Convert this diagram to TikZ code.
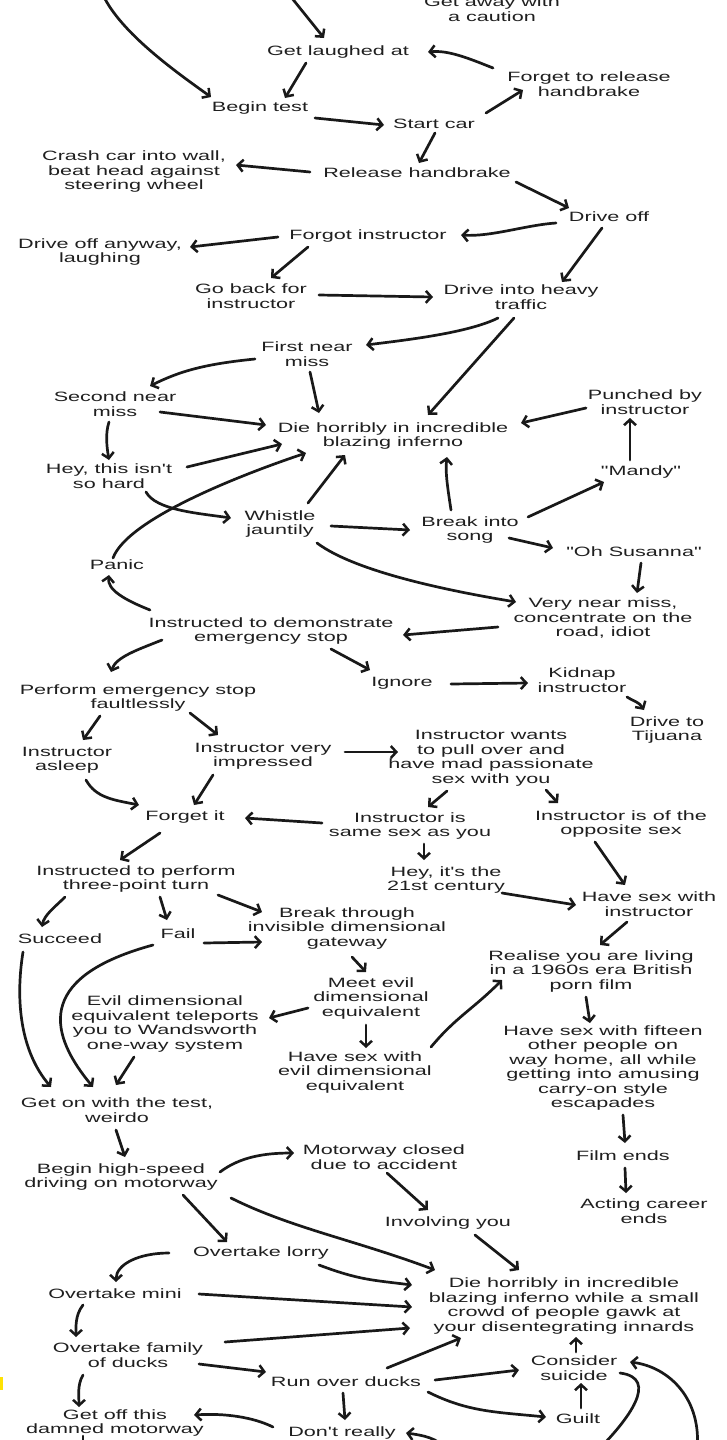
\documentclass[tikz,border=0pt]{standalone}
\usepackage{fontspec}
\setmainfont{Liberation Sans}[FakeStretch=1.6,Ligatures=TeXOff]
\usetikzlibrary{arrows.meta}
\newcommand\pp[3]{([shift={(#2,#3)}]#1.center)}
\begin{document}
\begin{tikzpicture}[x=1pt,y=-1pt,
  lbl/.style={align=center,inner sep=0pt,font=\fontsize{13.5}{14.5}\selectfont,text=black!88},
  plain/.style={draw=black!90,line width=2.7pt,line cap=round,line join=round},
  arr/.style={plain,-{Straight Barb[length=5.5pt,width=12pt,line width=2.5pt]}}]
\useasboundingbox (0,0) rectangle (726,1440);
\clip (0,0) rectangle (726,1440);
% nodes
\node[lbl] (GA) at (492,9) {Get away with\\a caution};
\node[lbl] (GL) at (338,52) {Get laughed at};
\node[lbl] (FR) at (589,84) {Forget to release\\handbrake};
\node[lbl] (BT) at (260,108) {Begin test};
\node[lbl] (SC) at (434,124) {Start car};
\node[lbl] (CR) at (134,172) {Crash car into wall,\\beat head against\\steering wheel};
\node[lbl] (RH) at (417,173) {Release handbrake};
\node[lbl] (DO) at (609,217) {Drive off};
\node[lbl] (FI) at (368,236) {Forgot instructor};
\node[lbl] (DA) at (100,252) {Drive off anyway,\\laughing};
\node[lbl] (GB) at (251,296) {Go back for\\instructor};
\node[lbl] (TR) at (521,297) {Drive into heavy\\traffic};
\node[lbl] (FN) at (307,354) {First near\\miss};
\node[lbl] (SN) at (115,404) {Second near\\miss};
\node[lbl] (D1) at (393,436) {Die horribly in incredible\\blazing inferno};
\node[lbl] (PB) at (645,402) {Punched by\\instructor};
\node[lbl] (HH) at (109,476) {Hey, this isn't\\so hard};
\node[lbl] (MA) at (641,472) {"Mandy"};
\node[lbl] (WJ) at (280,524) {Whistle\\jauntily};
\node[lbl] (BS) at (470,530) {Break into\\song};
\node[lbl] (OS) at (634,552) {"Oh Susanna"};
\node[lbl] (PA) at (117,565) {Panic};
\node[lbl] (VN) at (603,618) {Very near miss,\\concentrate on the\\road, idiot};
\node[lbl] (IE) at (271,631) {Instructed to demonstrate\\emergency stop};
\node[lbl] (IG) at (402,683) {Ignore};
\node[lbl] (KI) at (582,680) {Kidnap\\instructor};
\node[lbl] (PE) at (138,698) {Perform emergency stop\\faultlessly};
\node[lbl] (TJ) at (667,730) {Drive to\\Tijuana};
\node[lbl] (AS) at (67,760) {Instructor\\asleep};
\node[lbl] (IV) at (263,756) {Instructor very\\impressed};
\node[lbl] (PO) at (491,758) {Instructor wants\\to pull over and\\have mad passionate\\sex with you};
\node[lbl] (FG) at (185,817) {Forget it};
\node[lbl] (SS) at (410,826) {Instructor is\\same sex as you};
\node[lbl] (OP) at (621,824) {Instructor is of the\\opposite sex};
\node[lbl] (TP) at (136,879) {Instructed to perform\\three-point turn};
\node[lbl] (CE) at (446,880) {Hey, it's the\\21st century};
\node[lbl] (HI) at (649,904) {Have sex with\\instructor};
\node[lbl] (SU) at (60,939) {Succeed};
\node[lbl] (FA) at (178,934) {Fail};
\node[lbl] (GW) at (347,928) {Break through\\invisible dimensional\\gateway};
\node[lbl] (RE) at (591,971) {Realise you are living\\in a 1960s era British\\porn film};
\node[lbl] (ME) at (371,998) {Meet evil\\dimensional\\equivalent};
\node[lbl] (ET) at (165,1024) {Evil dimensional\\equivalent teleports\\you to Wandsworth\\one-way system};
\node[lbl] (HE) at (355,1072) {Have sex with\\evil dimensional\\equivalent};
\node[lbl] (FF) at (603,1068) {Have sex with fifteen\\other people on\\way home, all while\\getting into amusing\\carry-on style\\escapades};
\node[lbl] (GO) at (117,1110) {Get on with the test,\\weirdo};
\node[lbl] (BH) at (121,1177) {Begin high-speed\\driving on motorway};
\node[lbl] (MC) at (384,1157) {Motorway closed\\due to accident};
\node[lbl] (FE) at (623,1156) {Film ends};
\node[lbl] (AC) at (644,1211) {Acting career\\ends};
\node[lbl] (IY) at (448,1223) {Involving you};
\node[lbl] (OL) at (261,1253) {Overtake lorry};
\node[lbl] (D2) at (564,1306) {Die horribly in incredible\\blazing inferno while a small\\crowd of people gawk at\\your disentegrating innards};
\node[lbl] (OM) at (115,1294) {Overtake mini};
\node[lbl] (OD) at (128,1355) {Overtake family\\of ducks};
\node[lbl] (RO) at (346,1382) {Run over ducks};
\node[lbl] (CS) at (574,1368) {Consider\\suicide};
\node[lbl] (GU) at (578,1419) {Guilt};
\node[lbl] (GF) at (115,1423) {Get off this\\damned motorway};
\node[lbl] (DR) at (342,1433) {Don't really};
% free ends
\coordinate (t1) at (103,-5);
\coordinate (t2) at (291,-3);
\coordinate (b1) at (598,1450);
\coordinate (b2) at (697,1450);
\coordinate (b3) at (445,1450);
\coordinate (b4) at (83,1450);
% connectors
\draw[arr] (t1) .. controls +(18,38) and +(-35,-25) .. \pp{BT}{-49}{-11};
\draw[arr] (t2) -- \pp{GL}{-14}{-14};
\draw[arr] \pp{GL}{-32}{11} -- \pp{BT}{25}{-10};
\draw[arr] \pp{FR}{-96}{-16} .. controls +(-25,-10) and +(20,-2) .. \pp{GL}{90}{0};
\draw[arr] \pp{SC}{52}{-11} -- \pp{FR}{-66}{6};
\draw[arr] \pp{BT}{55}{10} -- \pp{SC}{-50}{1};
\draw[arr] \pp{SC}{1}{9} -- \pp{RH}{2}{-10};
\draw[arr] \pp{RH}{-107}{-1} -- \pp{CR}{102}{-7};
\draw[arr] \pp{RH}{99}{9} -- \pp{DO}{-40}{-9};
\draw[arr] \pp{DO}{-53}{6} .. controls +(-30,2) and +(30,2) .. \pp{FI}{93}{-1};
\draw[arr] \pp{FI}{-90}{1} -- \pp{DA}{90}{-5};
\draw[arr] \pp{FI}{-60}{11} -- \pp{GB}{20}{-18};
\draw[arr] \pp{DO}{-7}{11} -- \pp{TR}{41}{-15};
\draw[arr] \pp{GB}{68}{-1} -- \pp{TR}{-88}{0};
\draw[arr] \pp{TR}{-23}{21} .. controls +(-30,15) and +(40,-5) .. \pp{FN}{59}{-9};
\draw[arr] \pp{TR}{-7}{21} -- \pp{D1}{35}{-21};
\draw[arr] \pp{FN}{-52}{5} .. controls +(-50,5) and +(30,-15) .. \pp{SN}{35}{-18};
\draw[arr] \pp{FN}{3}{18} -- \pp{D1}{-74}{-23};
\draw[arr] \pp{SN}{45}{8} -- \pp{D1}{-127}{-11};
\draw[arr] \pp{SN}{-6}{18} .. controls +(-4,12) and +(-2,-12) .. \pp{HH}{0}{-16};
\draw[arr] \pp{HH}{78}{-9} -- \pp{D1}{-111}{8};
\draw[arr] \pp{PA}{-4}{-7} .. controls +(15,-40) and +(-60,20) .. \pp{D1}{-87}{17};
\draw[arr] \pp{WJ}{28}{-21} -- \pp{D1}{-48}{19};
\draw[arr] \pp{BS}{-19}{-20} .. controls +(-3,-20) and +(-2,15) .. \pp{D1}{54}{21};
\draw[arr] \pp{HH}{37}{16} .. controls +(10,18) and +(-35,-5) .. \pp{WJ}{-49}{-6};
\draw[arr] \pp{WJ}{51}{2} -- \pp{BS}{-60}{0};
\draw[arr] \pp{BS}{58}{-13} -- \pp{MA}{-37}{10};
\draw[arr] \pp{MA}{-11}{-12} -- \pp{PB}{-15}{16};
\draw[arr] \pp{PB}{-59}{6} -- \pp{D1}{128}{-13};
\draw[arr] \pp{BS}{39}{8} -- \pp{OS}{-81}{-4};
\draw[arr] \pp{WJ}{37}{19} .. controls +(40,30) and +(-60,-10) .. \pp{VN}{-87}{-16};
\draw[arr] \pp{OS}{7}{11} -- \pp{VN}{34}{-25};
\draw[arr] \pp{IE}{-121}{-21} .. controls +(-25,-10) and +(-2,15) .. \pp{PA}{-8}{10};
\draw[arr] \pp{VN}{-105}{9} -- \pp{IE}{132}{4};
\draw[arr] \pp{IE}{-109}{9} .. controls +(-25,10) and +(5,-15) .. \pp{PE}{-27}{-26};
\draw[arr] \pp{IE}{60}{18} -- \pp{IG}{-32}{-13};
\draw[arr] \pp{IG}{49}{1} -- \pp{KI}{-54}{3};
\draw[arr] \pp{KI}{45}{17} .. controls +(8,5) and +(-5,-8) .. \pp{TJ}{-23}{-20};
\draw[arr] \pp{PE}{-38}{18} -- \pp{AS}{16}{-20};
\draw[arr] \pp{PE}{52}{15} -- \pp{IV}{-45}{-21};
\draw[arr] \pp{IV}{82}{-4} -- \pp{PO}{-93}{-6};
\draw[arr] \pp{AS}{19}{20} .. controls +(10,18) and +(-25,-5) .. \pp{FG}{-46}{-12};
\draw[arr] \pp{IV}{-50}{19} -- \pp{FG}{9}{-12};
\draw[arr] \pp{PO}{-44}{33} -- \pp{SS}{18}{-19};
\draw[arr] \pp{PO}{55}{32} -- \pp{OP}{-63}{-21};
\draw[arr] \pp{SS}{-88}{-3} -- \pp{FG}{60}{1};
\draw[arr] \pp{SS}{14}{18} -- \pp{CE}{-22}{-20};
\draw[arr] \pp{FG}{-25}{16} -- \pp{TP}{-16}{-19};
\draw[arr] \pp{OP}{-26}{18} -- \pp{HI}{-24}{-19};
\draw[arr] \pp{CE}{56}{13} -- \pp{HI}{-73}{1};
\draw[arr] \pp{TP}{-71}{18} .. controls +(-10,10) and +(2,-12) .. \pp{SU}{-18}{-12};
\draw[arr] \pp{TP}{24}{18} -- \pp{FA}{-11}{-14};
\draw[arr] \pp{TP}{82}{16} -- \pp{GW}{-85}{-16};
\draw[arr] \pp{FA}{26}{9} -- \pp{GW}{-85}{14};
\draw[arr] \pp{HI}{-22}{18} -- \pp{RE}{9}{-26};
\draw[arr] \pp{GW}{5}{29} -- \pp{ME}{-5}{-26};
\draw[arr] \pp{SU}{-37}{13} .. controls +(-8,50) and +(-30,-35) .. \pp{GO}{-66}{-23};
\draw[arr] \pp{FA}{-25}{11} .. controls +(-110,30) and +(-50,-60) .. \pp{GO}{-24}{-23};
\draw[arr] \pp{ME}{-63}{10} -- \pp{ET}{104}{-6};
\draw[arr] \pp{ME}{-5}{27} -- \pp{HE}{11}{-24};
\draw[arr] \pp{HE}{76}{-25} .. controls +(25,-30) and +(-30,30) .. \pp{RE}{-89}{9};
\draw[arr] \pp{RE}{-5}{26} -- \pp{FF}{-13}{-45};
\draw[arr] \pp{ET}{-31}{33} -- \pp{GO}{-1}{-25};
\draw[arr] \pp{GO}{-1}{20} -- \pp{BH}{4}{-20};
\draw[arr] \pp{FF}{20}{47} -- \pp{FE}{2}{-13};
\draw[arr] \pp{FE}{2}{12} -- \pp{AC}{-18}{-18};
\draw[arr] \pp{BH}{99}{-5} .. controls +(20,-15) and +(-30,0) .. \pp{MC}{-90}{-4};
\draw[arr] \pp{MC}{3}{16} -- \pp{IY}{-20}{-13};
\draw[arr] \pp{BH}{62}{18} -- \pp{OL}{-34}{-11};
\draw[arr] \pp{BH}{110}{21} .. controls +(60,30) and +(-80,-30) .. \pp{D2}{-129}{-36};
\draw[arr] \pp{IY}{27}{12} -- \pp{D2}{-45}{-36};
\draw[arr] \pp{OL}{58}{12} .. controls +(40,15) and +(-40,-5) .. \pp{D2}{-152}{-21};
\draw[arr] \pp{OL}{-92}{0} .. controls +(-30,0) and +(0,-18) .. \pp{OM}{1}{-12};
\draw[arr] \pp{OM}{84}{0} -- \pp{D2}{-152}{1};
\draw[arr] \pp{OD}{97}{-13} -- \pp{D2}{-154}{22};
\draw[arr] \pp{OM}{-32}{11} .. controls +(-8,10) and +(0,-10) .. \pp{OD}{-52}{-18};
\draw[arr] \pp{OD}{71}{9} -- \pp{RO}{-80}{-10};
\draw[arr] \pp{RO}{41}{-14} -- \pp{D2}{-103}{32};
\draw[arr] \pp{RO}{89}{-2} -- \pp{CS}{-55}{2};
\draw[arr] \pp{RO}{82}{10} .. controls +(40,20) and +(-50,-5) .. \pp{GU}{-32}{-2};
\draw[arr] \pp{CS}{2}{-16} -- \pp{D2}{12}{31};
\draw[arr] \pp{GU}{3}{-11} -- \pp{CS}{7}{15};
\draw[arr] \pp{OD}{-45}{20} .. controls +(-6,10) and +(0,-10) .. \pp{GF}{-36}{-16};
\draw[arr] \pp{RO}{-3}{11} -- \pp{DR}{3}{-13};
\draw[arr] \pp{DR}{-69}{-6} .. controls +(-20,-10) and +(30,-2) .. \pp{GF}{79}{-8};
\draw[plain] \pp{CS}{46}{5} .. controls +(40,5) and +(30,-30) .. (b1);
\draw[arr] (b2) .. controls +(5,-50) and +(40,5) .. \pp{CS}{56}{-6};
\draw[arr] (b3) .. controls +(-5,-12) and +(15,2) .. \pp{DR}{64}{0};
\draw[plain] \pp{GF}{-32}{13} -- (b4);
\fill[yellow!85!orange] (0,1377) rectangle (3,1390);
\end{tikzpicture}
\end{document}
